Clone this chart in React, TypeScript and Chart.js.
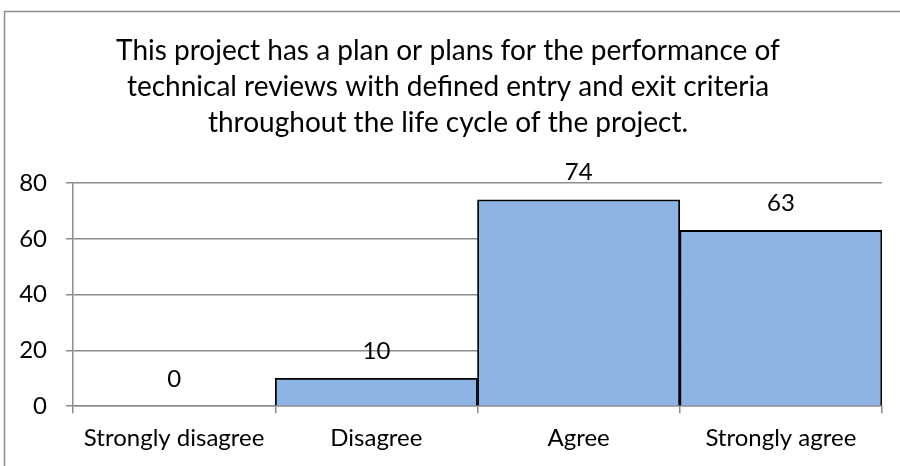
import React, { useEffect, useRef } from "react";
import { Chart, registerables } from "chart.js";

Chart.register(...registerables);

const titleLines = [
  "This project has a plan or plans for the performance of",
  "technical reviews with defined entry and exit criteria",
  "throughout the life cycle of the project.",
];
const categories = ["Strongly disagree", "Disagree", "Agree", "Strongly agree"];
const counts = [0, 10, 74, 63];
const yTicks = [0, 20, 40, 60, 80];

const FONT = "Lato, 'Open Sans', sans-serif";

const decorPlugin = {
  id: "decor",
  beforeDraw(chart: any) {
    const ctx = chart.ctx;
    ctx.save();
    ctx.fillStyle = "#ffffff";
    ctx.fillRect(0, 0, chart.width, chart.height);
    ctx.strokeStyle = "#8c8c8c";
    ctx.lineWidth = 1.5;
    ctx.strokeRect(4.5, 11.5, chart.width + 10, chart.height + 10);
    ctx.fillStyle = "#000000";
    ctx.font = `28px ${FONT}`;
    ctx.textAlign = "center";
    ctx.textBaseline = "middle";
    titleLines.forEach((t, i) => ctx.fillText(t, 448, 51 + i * 36));
    ctx.restore();
  },
  afterDatasetsDraw(chart: any) {
    const ctx = chart.ctx;
    const meta = chart.getDatasetMeta(0);
    ctx.save();
    ctx.fillStyle = "#000000";
    ctx.font = `24px ${FONT}`;
    ctx.textAlign = "center";
    ctx.textBaseline = "middle";
    meta.data.forEach((bar: any, i: number) => {
      ctx.fillText(String(counts[i]), bar.x, bar.y - 27);
    });
    ctx.restore();
  },
};

export default function App() {
  const ref = useRef<HTMLCanvasElement | null>(null);
  useEffect(() => {
    document.body.style.margin = "0";
    if (!ref.current) return;
    const chart = new Chart(ref.current, {
      type: "bar",
      data: {
        labels: categories,
        datasets: [
          {
            data: counts,
            backgroundColor: "#8EB4E3",
            borderColor: "#000000",
            borderWidth: 1.8,
            categoryPercentage: 1,
            barPercentage: 1,
          },
        ],
      },
      options: {
        animation: false,
        responsive: false,
        layout: { padding: { top: 183, right: 18, bottom: 2, left: 6 } },
        plugins: {
          legend: { display: false },
          title: { display: false },
          tooltip: { enabled: false },
        },
        scales: {
          x: {
            offset: true,
            afterFit(scale: any) {
              scale.paddingLeft = 0;
              scale.paddingRight = 0;
            },
            grid: {
              offset: true,
              drawOnChartArea: false,
              drawTicks: true,
              tickLength: 7,
              color: "#8c8c8c",
              lineWidth: 1.5,
            },
            border: { color: "#8c8c8c", width: 1.5 },
            ticks: { color: "#000000", font: { family: FONT, size: 24 }, padding: 11 },
          },
          y: {
            min: 0,
            max: 80,
            afterBuildTicks(scale: any) {
              scale.ticks = yTicks.map((v) => ({ value: v }));
            },
            afterFit(scale: any) {
              scale.width = 67;
            },
            grid: { color: "#8c8c8c", lineWidth: 1.5, tickLength: 7 },
            border: { color: "#8c8c8c", width: 1.5 },
            ticks: { color: "#000000", font: { family: FONT, size: 24 }, padding: 19 },
          },
        },
      },
      plugins: [decorPlugin],
    });
    return () => chart.destroy();
  }, []);
  return (
    <div style={{ width: 900, height: 466 }}>
      <canvas ref={ref} width={900} height={466} style={{ display: "block" }} />
    </div>
  );
}
